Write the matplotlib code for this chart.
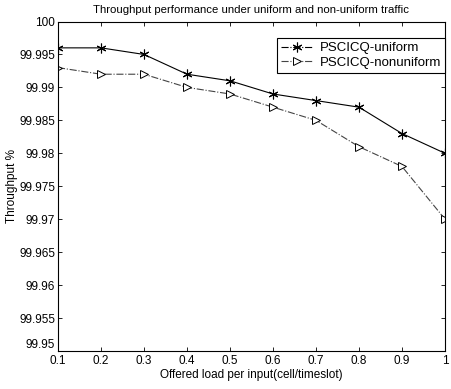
import matplotlib
matplotlib.use("Agg")
import matplotlib.pyplot as plt
from matplotlib.lines import Line2D
from matplotlib.ticker import FixedFormatter, FixedLocator

load = [0.1, 0.2, 0.3, 0.4, 0.5, 0.6, 0.7, 0.8, 0.9, 1.0]
uniform = [99.996, 99.996, 99.995, 99.992, 99.991, 99.989, 99.988, 99.987, 99.983, 99.980]
nonuniform = [99.993, 99.992, 99.992, 99.990, 99.989, 99.987, 99.985, 99.981, 99.978, 99.970]
yticks = [99.95, 99.955, 99.96, 99.965, 99.97, 99.975, 99.98, 99.985, 99.99, 99.995, 100]
ytick_labels = ["99.95", "99.955", "99.96", "99.965", "99.97", "99.975", "99.98",
                "99.985", "99.99", "99.995", "100"]
xtick_labels = ["0.1", "0.2", "0.3", "0.4", "0.5", "0.6", "0.7", "0.8", "0.9", "1"]

ASTERISK = (6, 2, 0)  # matlab-style line asterisk

plt.rcParams.update({"font.family": "Liberation Sans", "font.size": 8.5})

fig = plt.figure(figsize=(4.52, 3.89), dpi=100)
ax = fig.add_axes([58 / 452, 1 - 351 / 389, (445 - 58) / 452, (351 - 21.5) / 389])

ax.plot(load, uniform, color="black", linestyle="-", linewidth=0.8,
        marker=ASTERISK, markersize=7, markeredgewidth=0.8)
ax.plot(load, nonuniform, color="#444444", linestyle="-.", linewidth=0.8,
        marker=">", markersize=6, markerfacecolor="white", markeredgecolor="black",
        markeredgewidth=0.7)

ax.set_xlim(0.1, 1.0)
ax.set_ylim(99.95, 100)
ax.set_xticks(load)
ax.set_xticklabels(xtick_labels)
ax.yaxis.set_major_locator(FixedLocator(yticks))
ax.yaxis.set_major_formatter(FixedFormatter(ytick_labels))
ax.tick_params(direction="in", top=True, right=True, length=3, width=0.6, pad=2)
ax.tick_params(axis="x", pad=3)
# lift the bottom y label a bit so it clears the "0.1" below it
ax.get_yticklabels()[0].set_verticalalignment("bottom")
for spine in ax.spines.values():
    spine.set_linewidth(0.8)

ax.set_title("Throughput performance under uniform and non-uniform traffic",
             fontsize=8.2, pad=6)
ax.set_xlabel("Offered load per input(cell/timeslot)", fontsize=8.5, labelpad=1)
ax.set_ylabel("Throughput %", fontsize=8.5, labelpad=1)

handles = [
    Line2D([], [], color="black", linestyle="-.", linewidth=0.8, marker=ASTERISK,
           markersize=7, markeredgewidth=0.8),
    Line2D([], [], color="#444444", linestyle="-.", linewidth=0.8, marker=">",
           markersize=6, markerfacecolor="white", markeredgecolor="black",
           markeredgewidth=0.7),
]
leg = ax.legend(handles, ["PSCICQ-uniform", "PSCICQ-nonuniform"],
                loc="upper right", bbox_to_anchor=(1.0, 0.95), borderaxespad=0,
                fontsize=9.5, fancybox=False, framealpha=1, edgecolor="black",
                borderpad=0.3, handlelength=2.4, labelspacing=0.2, handletextpad=0.5)
leg.get_frame().set_linewidth(0.8)

fig.savefig("out.png", dpi=100)
